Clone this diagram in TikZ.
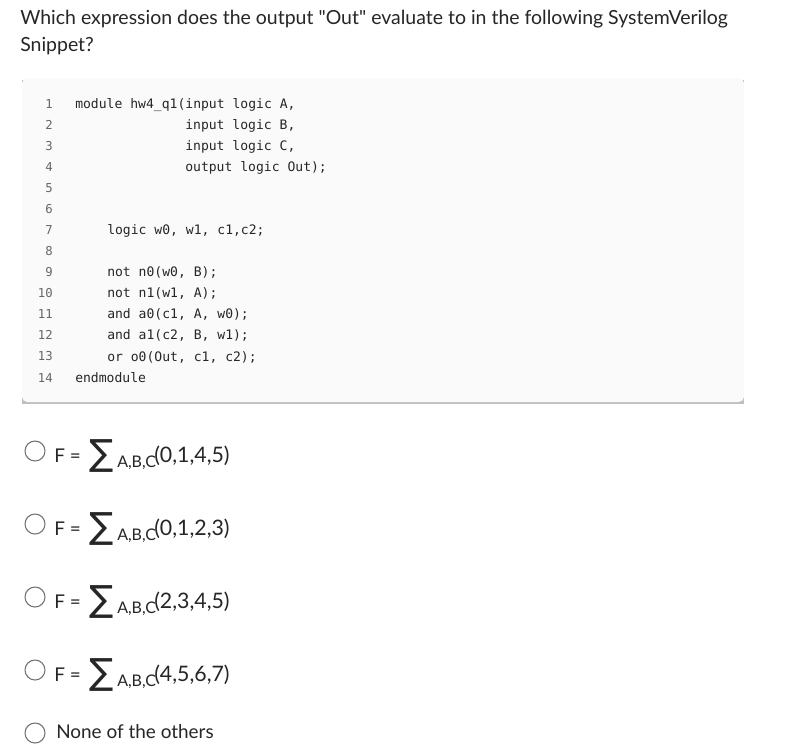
\documentclass[tikz,border=0pt]{standalone}
\usepackage{fontspec}
\setmainfont{Lato}
\newfontfamily\codefont{DejaVu Sans Mono}
\newfontfamily\symfont{DejaVu Sans}
\begin{document}
\begin{tikzpicture}[x=0.75pt,y=-0.75pt,
  code/.style={anchor=base west,inner sep=0,font=\codefont\fontsize{9.8}{11}\selectfont,text=black!85},
  lnum/.style={anchor=base east,inner sep=0,font=\codefont\fontsize{9.2}{11}\selectfont,text=black!60},
  txt/.style={anchor=base west,inner sep=0,font=\fontsize{14.6}{16}\selectfont,text=black!85},
  otxt/.style={anchor=base west,inner sep=0,font=\fontsize{14.2}{16}\selectfont,text=black!85},
  ptxt/.style={anchor=base west,inner sep=0,font=\fontsize{16}{18}\selectfont,text=black!85},
  radio/.style={circle,draw=black!55,line width=0.8pt,minimum size=15pt,inner sep=0,fill=white}]
\useasboundingbox (0,0) rectangle (793,754);
\fill[white] (0,0) rectangle (793,754);
\node[txt] (t1) at (20,24) {Which expression does the output \textquotedbl Out\textquotedbl{} evaluate to in the following SystemVerilog};
\node[txt] (t2) at (20,51) {Snippet?};
% code block
\fill[black!25] (22,80) rectangle (744,404);
\fill[blue!3!black!2] (22,78) [rounded corners=4pt] rectangle (744,402);
\foreach \i in {1,...,14} {
  \node[lnum] (n\i) at (53,{108+21.08*(\i-1)}) {\i};
}
\node[code] (c1) at (75,108) {module hw4\_q1(input logic A,};
\node[code] (c2) at (185,129.1) {input logic B,};
\node[code] (c3) at (185,150.2) {input logic C,};
\node[code] (c4) at (185,171.2) {output logic Out);};
\node[code] (c7) at (107,234.5) {logic w0, w1, c1,c2;};
\node[code] (c9) at (107,276.6) {not n0(w0, B);};
\node[code] (c10) at (107,297.7) {not n1(w1, A);};
\node[code] (c11) at (107,318.8) {and a0(c1, A, w0);};
\node[code] (c12) at (107,339.9) {and a1(c2, B, w1);};
\node[code] (c13) at (107,361.0) {or o0(Out, c1, c2);};
\node[code] (c14) at (75,382.0) {endmodule};
% options
\foreach \y/\l [count=\k] in {462/{(0,1,4,5)},535/{(0,1,2,3)},608/{(2,3,4,5)},681/{(4,5,6,7)}} {
  \node[radio] (r\k) at (35,\y-11) {};
  \node[otxt] (f\k) at (54,\y) {F =};
  \node[anchor=base west,inner sep=0,text=black!85,font=\symfont\fontsize{27}{30}\selectfont] (s\k) at (89,\y+3) {∑};
  \node[anchor=base west,inner sep=0,text=black!85,font=\fontsize{12}{13}\selectfont] (a\k) at (117,\y+5) {A,B,C};
  \node[ptxt] (p\k) at (154,\y) {\l};
}
\node[radio] (r5) at (35,733) {};
\node[otxt] (none) at (56,738) {None of the others};
\end{tikzpicture}
\end{document}
